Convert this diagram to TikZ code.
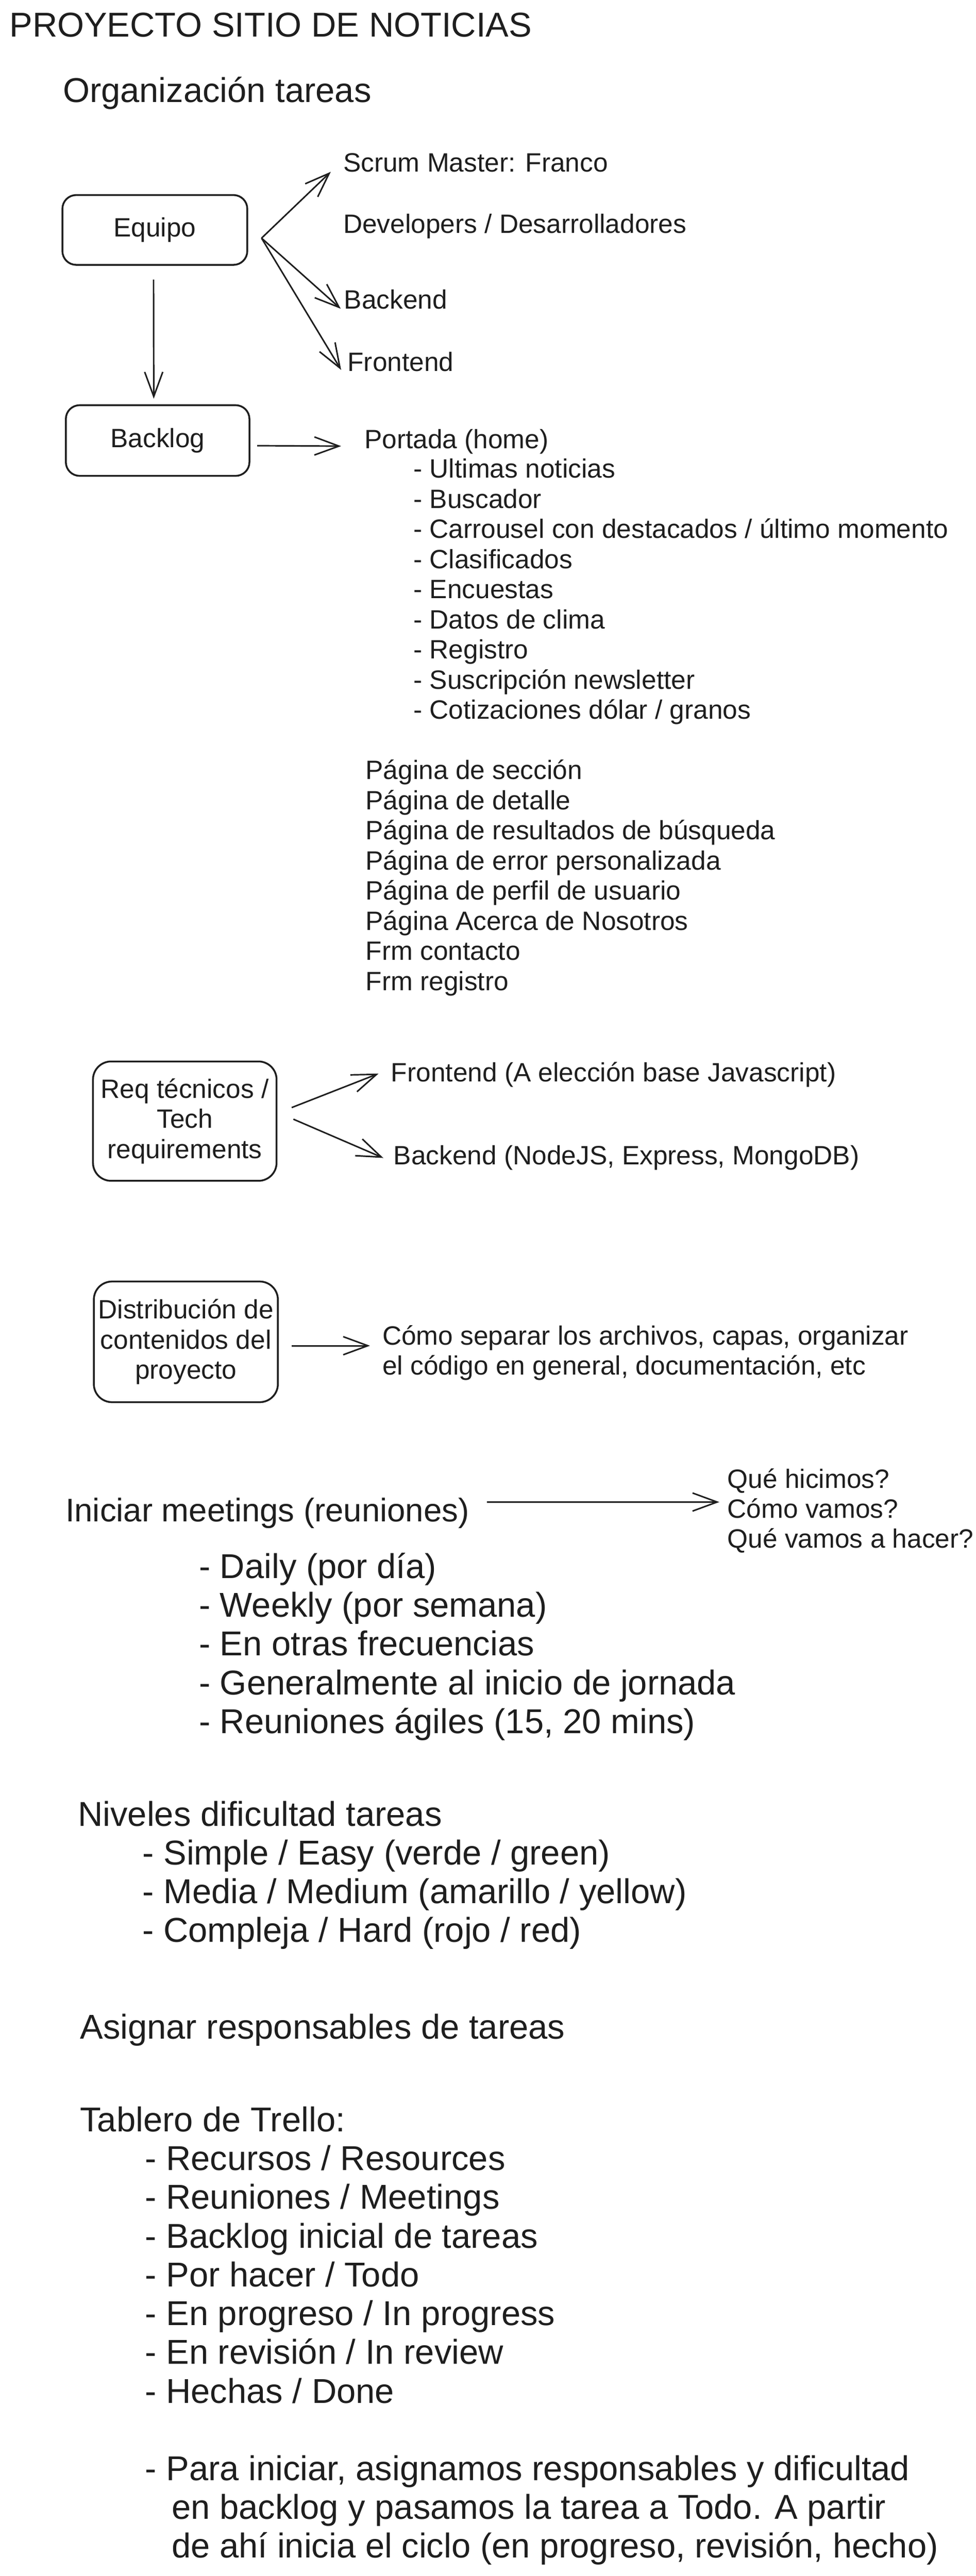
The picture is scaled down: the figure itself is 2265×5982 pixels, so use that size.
\documentclass[tikz,border=0pt]{standalone}
\usepackage{fontspec}
\setmainfont{Liberation Sans}
\usetikzlibrary{arrows.meta}
\definecolor{ink}{RGB}{30,30,30}
\newcommand{\fsS}{\fontsize{17.5pt}{19.92pt}\selectfont}
\newcommand{\fsL}{\fontsize{22.76pt}{25.6pt}\selectfont}
\newcommand{\fsM}{\fontsize{21.6pt}{25.6pt}\selectfont}
\begin{document}
\begin{tikzpicture}[x=0.01cm, y=-0.01cm,
  txt/.style={anchor=base west, inner sep=0pt, outer sep=0pt, text=ink, font=\fsS},
  big/.style={txt, font=\fsL},
  box/.style={draw=ink, line width=1.2pt, rounded corners=0.32cm, inner sep=0pt, text=ink, font=\fsS, align=center},
  bigbox/.style={box, rounded corners=0.42cm},
  conn/.style={draw=ink, line width=1pt, -{Straight Barb[length=0.57cm, width=0.42cm, line width=1pt]}}
]
\fill[white] (0,0) rectangle (2265,5982);
\useasboundingbox (0,0) rectangle (2265,5982);

% --- headings
\node[big] (title) at (22,85) {PROYECTO SITIO DE NOTICIAS};
\node[big] (org) at (146,237) {Organización tareas};

% --- Equipo
\node[box, minimum width=4.29cm, minimum height=1.62cm] (equipo) at (359.5,534) {Equipo};
\node[txt] (scrum) at (797,399) {Scrum Master: Franco};
\node[txt] (devs) at (797,541) {Developers / Desarrolladores};
\node[txt] (backend) at (799,717) {Backend};
\node[txt] (frontend) at (807,862) {Frontend};
\draw[conn] ([shift={(31,19)}]equipo.east) -- ([shift={(-29,0)}]scrum.base west);
\draw[conn] ([shift={(31,19)}]equipo.east) -- ([shift={(-8,0)}]backend.base west);
\draw[conn] ([shift={(31,19)}]equipo.east) -- ([shift={(-15,-3)}]frontend.base west);

% --- Backlog
\node[box, minimum width=4.26cm, minimum height=1.64cm] (backlog) at (366,1023) {Backlog};
\draw[conn] ([shift={(-3,32)}]equipo.south) -- ([shift={(-9,-13)}]backlog.north);
\node[txt] (portada) at (846,1041) {Portada (home)};
\draw[conn] ([shift={(16,12)}]backlog.east) -- ([shift={(-54,-5)}]portada.base west);
\node[txt] (p1) at (960,1110) {- Ultimas noticias};
\node[txt] (p2) at (960,1180) {- Buscador};
\node[txt] (p3) at (960,1250) {- Carrousel con destacados / último momento};
\node[txt] (p4) at (960,1320) {- Clasificados};
\node[txt] (p5) at (960,1390) {- Encuestas};
\node[txt] (p6) at (960,1460) {- Datos de clima};
\node[txt] (p7) at (960,1530) {- Registro};
\node[txt] (p8) at (960,1600) {- Suscripción newsletter};
\node[txt] (p9) at (960,1670) {- Cotizaciones dólar / granos};
\node[txt] (g1) at (849,1810) {Página de sección};
\node[txt] (g2) at (849,1880) {Página de detalle};
\node[txt] (g3) at (849,1950) {Página de resultados de búsqueda};
\node[txt] (g4) at (849,2020) {Página de error personalizada};
\node[txt] (g5) at (849,2090) {Página de perfil de usuario};
\node[txt] (g6) at (849,2160) {Página Acerca de Nosotros};
\node[txt] (g7) at (849,2230) {Frm contacto};
\node[txt] (g8) at (849,2300) {Frm registro};

% --- Req tecnicos
\node[bigbox, minimum width=4.26cm, minimum height=2.77cm] (req) at (429,2603.5) {Req técnicos /\\Tech\\requirements};
\node[txt] (front2) at (908,2512) {Frontend (A elección base Javascript)};
\node[txt] (back2) at (914,2705) {Backend (NodeJS, Express, MongoDB)};
\draw[conn] ([shift={(33,-31.5)}]req.east) -- ([shift={(-29,-19)}]front2.base west);
\draw[conn] ([shift={(37,-4.5)}]req.east) -- ([shift={(-24,-16)}]back2.base west);

% --- Distribucion
\node[bigbox, minimum width=4.27cm, minimum height=2.80cm] (dist) at (431.5,3116) {Distribución de\\contenidos del\\proyecto};
\node[txt] (como1) at (888,3123) {Cómo separar los archivos, capas, organizar};
\node[txt] (como1b) at (888,3193) {el código en general, documentación, etc};
\draw[conn] ([shift={(30,9)}]dist.east) -- ([shift={(-29,2)}]como1.base west);

% --- Meetings
\node[txt, font=\fsM] (meet) at (152,3534) {Iniciar meetings (reuniones)};
\node[txt] (q1) at (1689,3456) {Qué hicimos?};
\node[txt] (q2) at (1689,3525) {Cómo vamos?};
\node[txt] (q3) at (1689,3594) {Qué vamos a hacer?};
\draw[conn] ([shift={(978,-46)}]meet.base west) -- ([shift={(-19,-37)}]q2.base west);
\node[big] (m1) at (462,3665) {- Daily (por día)};
\node[big] (m2) at (462,3755) {- Weekly (por semana)};
\node[big] (m3) at (462,3845) {- En otras frecuencias};
\node[big] (m4) at (462,3935) {- Generalmente al inicio de jornada};
\node[big] (m5) at (462,4025) {- Reuniones ágiles (15, 20 mins)};

% --- Niveles
\node[big] (niv) at (181,4240) {Niveles dificultad tareas};
\node[big] (n1) at (331,4330) {- Simple / Easy (verde / green)};
\node[big] (n2) at (331,4420) {- Media / Medium (amarillo / yellow)};
\node[big] (n3) at (331,4510) {- Compleja / Hard (rojo / red)};

\node[big] (asig) at (186,4735) {Asignar responsables de tareas};

% --- Trello
\node[big] (trello) at (186,4950) {Tablero de Trello:};
\node[big] (t1) at (337,5040) {- Recursos / Resources};
\node[big] (t2) at (337,5130) {- Reuniones / Meetings};
\node[big] (t3) at (337,5220) {- Backlog inicial de tareas};
\node[big] (t4) at (337,5310) {- Por hacer / Todo};
\node[big] (t5) at (337,5400) {- En progreso / In progress};
\node[big] (t6) at (337,5490) {- En revisión / In review};
\node[big] (t7) at (337,5580) {- Hechas / Done};
\node[big] (r1) at (337,5760) {- Para iniciar, asignamos responsables y dificultad};
\node[big] (r2) at (399,5850) {en backlog y pasamos la tarea a Todo. A partir};
\node[big] (r3) at (399,5940) {de ahí inicia el ciclo (en progreso, revisión, hecho)};
\end{tikzpicture}
\end{document}
